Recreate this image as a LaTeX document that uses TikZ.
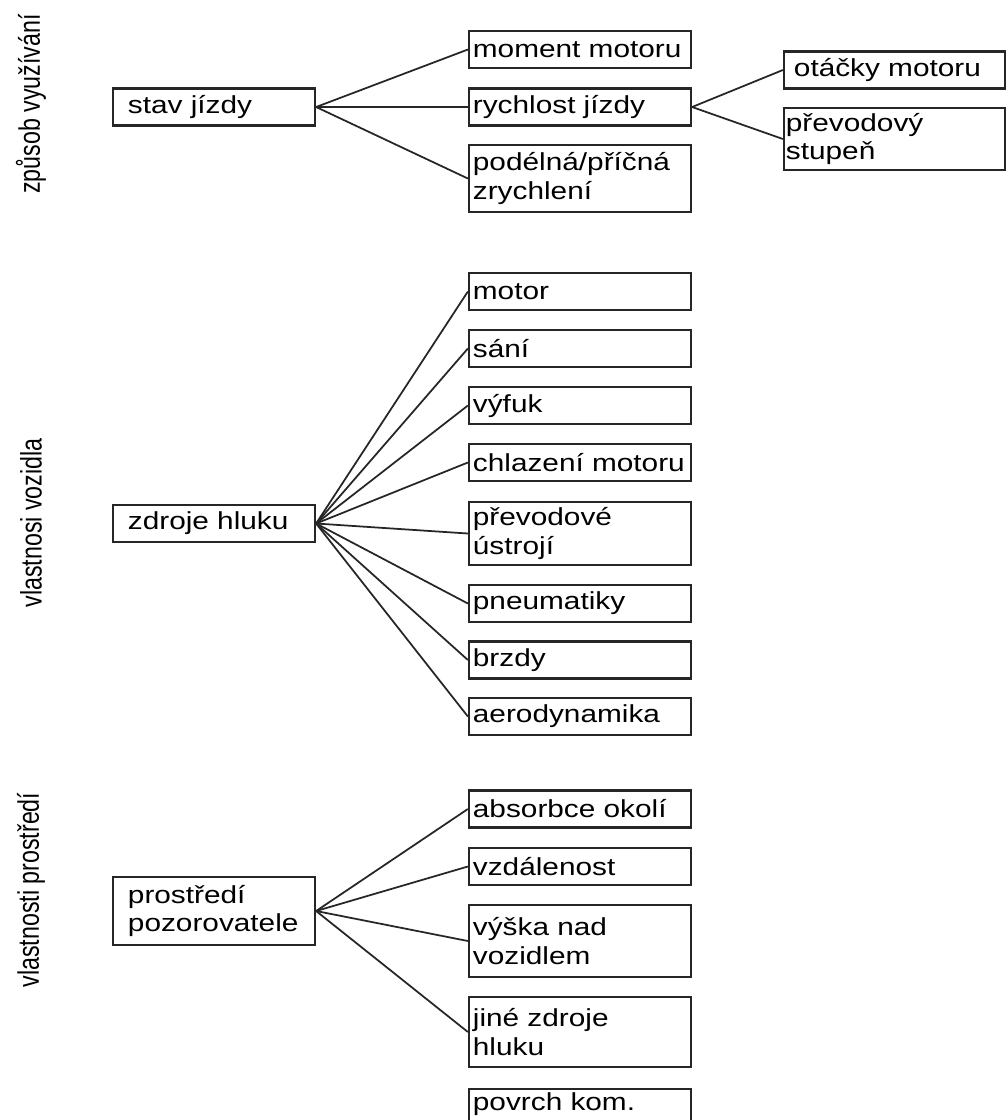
\documentclass[tikz,border=0pt]{standalone}
\usepackage{fontspec}
\usepackage{graphicx}
\setmainfont{Liberation Sans}[FakeStretch=1.21]
\newfontfamily\sidefont{Liberation Sans}
\usepackage{tikz}
\tikzset{
	srcbox/.style={draw=black!85, line width=0.6pt, minimum width=2.02cm, minimum height=0.37cm, text width=1.72cm, inner xsep=0.15cm, inner ysep=0pt, align=left, font=\fontsize{7pt}{8pt}\selectfont},
	leafbox/.style={draw=black!85, line width=0.6pt, minimum width=2.22cm, minimum height=0.37cm, text width=2.14cm, inner xsep=0.04cm, inner ysep=0pt, align=left, font=\fontsize{7pt}{8pt}\selectfont},
	sidelabel/.style={rotate=90, font=\sidefont\fontsize{6.6pt}{8pt}\selectfont},
	fan/.style={line width=0.5pt, black!85}
}

\begin{document}
\begin{tikzpicture}[x=0.01cm, y=-0.01cm]
		%%%%% START %%%%%
		\useasboundingbox (0, 0) rectangle (1007, 1120);
		
		\node[sidelabel] (usage) at (31, 104) {\scalebox{1}[1.28]{způsob využívání}};
		\node[sidelabel] (vehicle) at (31, 523) {\scalebox{1}[1.28]{vlastnosi vozidla}};
		\node[sidelabel] (environ) at (31, 890) {\scalebox{1}[1.28]{vlastnosti prostředí}};
		
		% driving state
		\node[srcbox] (state) at (214, 107) {stav jízdy};
		\node[leafbox] (torque) at (580, 49.5) {moment motoru};
		\node[leafbox] (speed) at (580, 107) {rychlost jízdy};
		\node[leafbox, minimum height=0.67cm] (accel) at (580, 178.5) {podélná/příčná\\zrychlení};
		\node[leafbox, minimum width=2.21cm, text width=2.01cm, inner xsep=0.1cm] (rpm) at (894.5, 70) {otáčky motoru};
		\node[leafbox, minimum width=2.21cm, text width=2.17cm, inner xsep=0.02cm, minimum height=0.62cm] (gear) at (894.5, 139) {převodový\\stupeň};
		
		\draw[fan] (state.east) -- (torque.west);
		\draw[fan] (state.east) -- (speed.west);
		\draw[fan] (state.east) -- (accel.west);
		\draw[fan] (speed.east) -- (rpm.west);
		\draw[fan] (speed.east) -- (gear.west);
		
		% noise sources
		\node[srcbox] (sources) at (214, 523.5) {zdroje hluku};
		\node[leafbox] (engine) at (580, 291.5) {motor};
		\node[leafbox] (intake) at (580, 348.5) {sání};
		\node[leafbox] (exhaust) at (580, 405.5) {výfuk};
		\node[leafbox] (cooling) at (580, 462.5) {chlazení motoru};
		\node[leafbox, minimum height=0.63cm] (drive) at (580, 533.5) {převodové\\ústrojí};
		\node[leafbox] (tyres) at (580, 603.5) {pneumatiky};
		\node[leafbox] (brakes) at (580, 660) {brzdy};
		\node[leafbox] (aero) at (580, 716.5) {aerodynamika};
		
		\draw[fan] (sources.east) -- (engine.west);
		\draw[fan] (sources.east) -- (intake.west);
		\draw[fan] (sources.east) -- (exhaust.west);
		\draw[fan] (sources.east) -- (cooling.west);
		\draw[fan] (sources.east) -- (drive.west);
		\draw[fan] (sources.east) -- (tyres.west);
		\draw[fan] (sources.east) -- (brakes.west);
		\draw[fan] (sources.east) -- (aero.west);
		
		% observer surroundings
		\node[srcbox, minimum height=0.68cm] (observer) at (214, 911) {prostředí\\pozorovatele};
		\node[leafbox] (absorb) at (580, 809) {absorbce okolí};
		\node[leafbox] (distance) at (580, 866.5) {vzdálenost};
		\node[leafbox, minimum height=0.72cm] (height) at (580, 941) {výška nad\\vozidlem};
		\node[leafbox, minimum height=0.70cm] (others) at (580, 1032) {jiné zdroje\\hluku};
		\node[leafbox, anchor=north, text depth=0.45cm, inner ysep=0.04cm] (surface) at (580, 1088) {povrch kom.};
		
		\draw[fan] (observer.east) -- (absorb.west);
		\draw[fan] (observer.east) -- (distance.west);
		\draw[fan] (observer.east) -- (height.west);
		\draw[fan] (observer.east) -- (others.west);
		
		%%%%% END %%%%%
	\end{tikzpicture}
\end{document}
